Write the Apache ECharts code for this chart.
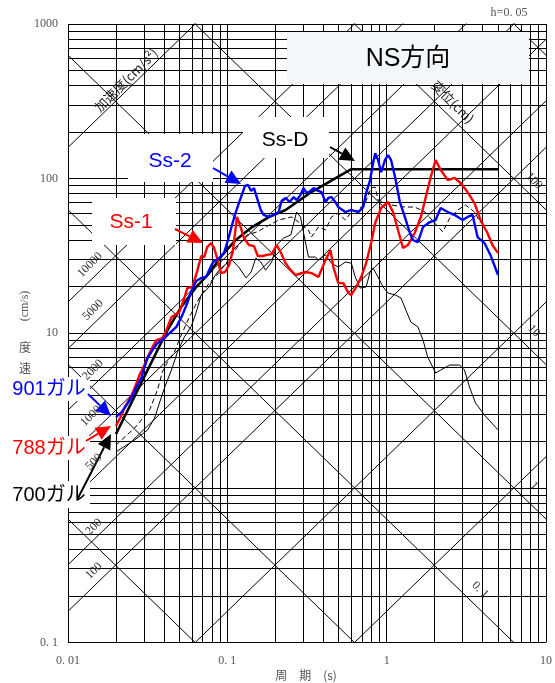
<!DOCTYPE html>
<html>
<head>
<meta charset="utf-8">
<script src="https://cdn.jsdelivr.net/npm/echarts@6/dist/echarts.min.js"></script>
<style>
  html, body { margin: 0; padding: 0; background: #fff; }
  #chart { width: 555px; height: 683px; }
</style>
</head>
<body>
<div id="chart"></div>
<script>
// Pseudo-velocity response spectra, NS direction, damping h = 0.05
// Each entry: [period (s), velocity (cm/s)]
const ssD = [[0.02, 2.23], [0.0415, 10.2], [0.0514, 14.8], [0.0638, 19.9], [0.077, 24.5],
  [0.093, 32.1], [0.113, 40.1], [0.143, 48.6], [0.182, 56.4], [0.232, 62.7], [0.337, 81.9],
  [0.60, 115], [5.0, 115]];

const ss1 = [[0.02, 2.51], [0.0217, 2.96], [0.0227, 3.33], [0.0237, 3.59], [0.0251, 3.98],
  [0.0269, 4.76], [0.0281, 5.37], [0.0302, 6.23], [0.0316, 7.02], [0.0339, 8.14], [0.0359, 9.04],
  [0.0391, 9.31], [0.0415, 10.5], [0.0446, 12.7], [0.050, 13.7], [0.0537, 16.9], [0.0561, 19.6],
  [0.0603, 19.9], [0.0647, 25.2], [0.0686, 31.6], [0.0716, 31.1], [0.0747, 36.1], [0.0791, 38.3],
  [0.0826, 35.6], [0.0863, 30.6], [0.0913, 24.5], [0.0968, 24.9], [0.1025, 27.6], [0.1086, 34.5],
  [0.1149, 56.5], [0.1218, 47.9], [0.127, 41.3], [0.1366, 37.2], [0.147, 36.6], [0.1554, 31.6],
  [0.167, 31.6], [0.177, 32.1], [0.190, 32.5], [0.204, 37.2], [0.216, 33.5], [0.232, 28.4],
  [0.250, 25.6], [0.268, 23.8], [0.310, 24.9], [0.337, 24.5], [0.373, 23.1], [0.413, 29.7],
  [0.444, 34.5], [0.463, 26.8], [0.497, 21.1], [0.535, 21.1], [0.574, 18.2], [0.600, 17.7],
  [0.644, 19.9], [0.692, 23.1], [0.743, 28.4], [0.799, 38.3], [0.847, 51.6], [0.923, 64.6],
  [1.02, 70.6], [1.096, 60.8], [1.178, 46.5], [1.266, 35.6], [1.36, 37.2], [1.50, 44.5],
  [1.64, 56.5], [1.76, 76.0], [1.89, 102], [2.03, 132], [2.18, 114], [2.42, 97.9], [2.67, 101],
  [2.91, 93.7], [3.22, 81.9], [3.56, 69.5], [3.88, 54.0], [4.29, 44.5], [4.61, 37.2], [5.0, 33.0]];

const ss2 = [[0.02, 2.87], [0.0217, 3.09], [0.0233, 3.43], [0.0251, 3.87], [0.0269, 4.49],
  [0.0290, 5.21], [0.0302, 6.04], [0.0316, 6.91], [0.0339, 7.79], [0.0364, 8.64], [0.0391, 9.04],
  [0.0433, 10.0], [0.0479, 11.0], [0.0522, 13.1], [0.0561, 15.7], [0.0594, 18.7], [0.0638, 21.8],
  [0.0686, 22.8], [0.0736, 23.1], [0.0780, 26.4], [0.0815, 28.9], [0.0887, 30.6], [0.0953, 33.0],
  [0.101, 40.1], [0.107, 50.1], [0.113, 60.8], [0.120, 72.7], [0.129, 89.6], [0.135, 91.0],
  [0.141, 83.2], [0.147, 86.9], [0.153, 76.0], [0.162, 62.7], [0.169, 58.2], [0.182, 56.5],
  [0.199, 59.0], [0.210, 60.8], [0.219, 71.6], [0.232, 75.0], [0.246, 70.6], [0.261, 76.0],
  [0.272, 72.7], [0.288, 78.3], [0.301, 86.9], [0.314, 80.7], [0.333, 83.2], [0.348, 86.9],
  [0.363, 84.4], [0.390, 81.9], [0.413, 70.6], [0.431, 75.0], [0.450, 76.0], [0.476, 70.6],
  [0.497, 65.5], [0.550, 60.8], [0.600, 62.7], [0.663, 60.8], [0.713, 65.5], [0.743, 80.7],
  [0.787, 97.9], [0.822, 126], [0.847, 146], [0.883, 132], [0.923, 110], [0.977, 132],
  [1.02, 142], [1.065, 132], [1.13, 102], [1.21, 70.6], [1.30, 56.5], [1.40, 44.5], [1.46, 40.1],
  [1.57, 38.9], [1.69, 48.6], [1.87, 52.4], [2.03, 54.0], [2.18, 64.6], [2.42, 60.8], [2.67, 58.2],
  [3.00, 54.0], [3.22, 56.5], [3.46, 58.2], [3.72, 41.9], [4.11, 38.3], [4.48, 32.1], [5.0, 23.8]];

// thin solid reference spectrum
const refSolid = [[0.02, 1.71], [0.0262, 2.04], [0.0316, 2.37], [0.0349, 2.82], [0.0375, 3.54],
  [0.0409, 4.62], [0.0446, 5.78], [0.0486, 7.55], [0.0537, 9.44], [0.0594, 11.1], [0.0638, 13.7],
  [0.0686, 17.7], [0.0769, 19.9], [0.0826, 23.1], [0.0887, 25.6], [0.0995, 28.4], [0.107, 29.7],
  [0.118, 26.8], [0.131, 22.8], [0.141, 24.9], [0.151, 30.6], [0.162, 28.9], [0.174, 25.6],
  [0.190, 28.9], [0.204, 37.2], [0.226, 41.3], [0.250, 43.2], [0.272, 60.8], [0.288, 56.5],
  [0.301, 44.5], [0.323, 31.1], [0.358, 31.1], [0.373, 29.7], [0.413, 32.1], [0.450, 28.4],
  [0.497, 26.8], [0.550, 28.9], [0.600, 28.4], [0.635, 23.1], [0.682, 19.6], [0.743, 19.9],
  [0.787, 24.9], [0.822, 26.4], [0.883, 23.1], [0.950, 19.9], [1.02, 18.2], [1.13, 17.7],
  [1.23, 16.9], [1.32, 14.1], [1.42, 11.8], [1.57, 11.0], [1.69, 9.04], [1.81, 7.02],
  [2.03, 5.53], [2.18, 5.78], [2.49, 6.23], [2.87, 6.23], [3.08, 5.78], [3.31, 4.49],
  [3.61, 3.54], [4.11, 2.96], [5.0, 2.37]];

// thin dashed reference spectrum
const refDashed = [[0.02, 1.89], [0.0262, 2.44], [0.0325, 3.18], [0.0364, 4.29], [0.0391, 5.61],
  [0.0421, 6.51], [0.0465, 7.55], [0.0514, 9.73], [0.0577, 12.7], [0.0666, 16.9], [0.0769, 21.1],
  [0.0863, 23.8], [0.0995, 28.9], [0.118, 37.2], [0.133, 43.2], [0.153, 45.2], [0.174, 48.6],
  [0.210, 54.0], [0.253, 56.5], [0.280, 52.4], [0.323, 46.5], [0.337, 41.9], [0.373, 48.6],
  [0.413, 46.5], [0.450, 56.5], [0.497, 59.9], [0.550, 54.0], [0.600, 60.8], [0.663, 62.7],
  [0.733, 69.5], [0.799, 86.9], [0.847, 88.3], [0.883, 72.7], [1.065, 67.5], [1.30, 65.5],
  [1.50, 65.5], [1.74, 60.8], [2.00, 51.6], [2.25, 45.2], [2.49, 55.6], [2.79, 62.7],
  [3.13, 67.5], [3.56, 60.8], [3.88, 51.6]];

// grid values
const periodGrid = [0.01, 0.02, 0.03, 0.04, 0.05, 0.06, 0.07, 0.08, 0.09,
  0.1, 0.2, 0.3, 0.4, 0.5, 0.6, 0.7, 0.8, 0.9, 1, 2, 3, 4, 5, 6, 7, 8, 9, 10];
const velocityGrid = [0.1, 0.2, 0.3, 0.4, 0.5, 0.6, 0.7, 0.8, 0.9, 1, 2, 3, 4, 5, 6, 7, 8, 9,
  10, 20, 30, 40, 50, 60, 70, 80, 90, 100, 200, 300, 400, 500, 600, 700, 800, 900, 1000];
const accelGrid = [1, 10, 100, 200, 500, 1000, 2000, 5000, 10000, 100000];   // cm/s^2
const dispGrid = [0.001, 0.01, 0.1, 1, 10, 100, 1000];                        // cm

// tick labels
const xTickLabels = { '-2': '0. 01', '-1': '0. 1', '0': '1', '1': '10' };
const yTickLabels = { '-1': '0. 1', '0': '1', '1': '10', '2': '100', '3': '1000' };
const accelLabels = ['10000', '5000', '2000', '1000', '500', '200', '100'];
const dispLabels = ['100', '10', '1', '0. 1'];

const TWO_PI = 2 * Math.PI;
const T_MIN = 0.01, T_MAX = 10, V_MIN = 0.1, V_MAX = 1000;

const gridSegments = [];
periodGrid.forEach(t => gridSegments.push({ coords: [[t, V_MIN], [t, V_MAX]] }));
velocityGrid.forEach(v => gridSegments.push({ coords: [[T_MIN, v], [T_MAX, v]] }));

const diagSegments = [];
accelGrid.forEach(a => diagSegments.push({ coords: [[T_MIN, a * T_MIN / TWO_PI], [T_MAX, a * T_MAX / TWO_PI]] }));
dispGrid.forEach(d => diagSegments.push({ coords: [[T_MIN, TWO_PI * d / T_MIN], [T_MAX, TWO_PI * d / T_MAX]] }));

const serifFont = '"Liberation Serif", "DejaVu Serif", serif';
const sansFont = '"Liberation Sans", Arial, "Noto Sans CJK JP", sans-serif';
const cjkFont = '"Noto Sans CJK JP", sans-serif';

function arrow(x1, y1, x2, y2, color) {
  const dx = x2 - x1, dy = y2 - y1, len = Math.hypot(dx, dy);
  const ux = dx / len, uy = dy / len;
  const L = 15, W = 7;
  const bx = x2 - ux * L, by = y2 - uy * L;
  return [
    { type: 'line', shape: { x1: x1, y1: y1, x2: bx, y2: by },
      style: { stroke: color, lineWidth: 2 }, z: 40 },
    { type: 'polygon', shape: { points: [[x2, y2], [bx - uy * W, by + ux * W], [bx + uy * W, by - ux * W]] },
      style: { fill: color }, z: 40 }
  ];
}

function box(x, y, w, h, fill) {
  return { type: 'rect', shape: { x: x, y: y, width: w, height: h }, style: { fill: fill || '#fff' }, z: 30 };
}

function label(text, x, y, opts) {
  opts = opts || {};
  return {
    type: 'text', x: x, y: y, rotation: opts.rotation || 0, z: 41,
    style: {
      text: text, fill: opts.color || '#000',
      font: (opts.size || 12) + 'px ' + (opts.family || serifFont),
      align: 'center', verticalAlign: 'middle'
    }
  };
}

const R45 = Math.PI / 4;
const accelLabelPos = [[90, 265], [93, 310], [93, 370], [91, 416], [94, 462], [94, 527], [94, 571]];
const dispLabelPos = [[534, 181], [534, 331], [534, 486], [480, 590]];

const graphics = [];
// annotation boxes
graphics.push(box(287, 32, 242, 52, '#f4f7f9'));
graphics.push(box(243, 117, 86, 41));
graphics.push(box(128, 134, 85, 48));
graphics.push(box(92, 198, 84, 47));
graphics.push(box(8, 377, 82, 24));
graphics.push(box(8, 436, 82, 24));
graphics.push(box(8, 481, 82, 27));

graphics.push(label('NS方向', 408, 59, { size: 25, family: sansFont }));
graphics.push(label('Ss-D', 285, 140, { size: 21, family: sansFont }));
graphics.push(label('Ss-2', 170, 161, { size: 21, family: sansFont, color: '#0000ff' }));
graphics.push(label('Ss-1', 131, 222, { size: 21, family: sansFont, color: '#ff0000' }));
graphics.push(label('901ガル', 49, 389, { size: 20, family: sansFont, color: '#0000ff' }));
graphics.push(label('788ガル', 49, 448, { size: 20, family: sansFont, color: '#ff0000' }));
graphics.push(label('700ガル', 49, 495, { size: 20, family: sansFont, color: '#000' }));

graphics.push(...arrow(330, 147, 355, 161, '#000'));
graphics.push(...arrow(213, 168, 241, 184, '#0000ff'));
graphics.push(...arrow(175, 229, 203, 243, '#ff0000'));
graphics.push(...arrow(88, 394, 111, 416, '#0000ff'));
graphics.push(...arrow(86, 441, 111, 426, '#ff0000'));
graphics.push(...arrow(78, 498, 111, 434, '#000'));

// diagonal scale labels
graphics.push(label('加速度(cm/s²)', 126, 80, { rotation: R45, size: 13, family: cjkFont, color: '#222' }));
accelLabels.forEach((t, i) => graphics.push(label(t, accelLabelPos[i][0], accelLabelPos[i][1], { rotation: R45, size: 12, color: '#333' })));
graphics.push(label('変位(cm)', 453, 102, { rotation: -R45, size: 13, family: cjkFont, color: '#222' }));
dispLabels.forEach((t, i) => graphics.push(label(t, dispLabelPos[i][0], dispLabelPos[i][1], { rotation: -R45, size: 12, color: '#333' })));

// axis titles and damping note
graphics.push(label('h=0. 05', 509, 13, { size: 12, color: '#555' }));
graphics.push(label('周　期　(s)', 306, 675, { size: 12, family: cjkFont, color: '#555' }));
graphics.push(label('速', 25, 368, { size: 12, family: cjkFont, color: '#555' }));
graphics.push(label('度', 25, 347, { size: 12, family: cjkFont, color: '#555' }));
graphics.push(label('(cm/s)', 25, 306, { size: 12, rotation: Math.PI / 2, color: '#555' }));

function spectrum(name, data, color, width, z, dash) {
  return {
    name: name, type: 'line', data: data, symbol: 'none', z: z,
    lineStyle: { color: color, width: width, type: dash || 'solid' },
    silent: true
  };
}

const chart = echarts.init(document.getElementById('chart'), null, { renderer: 'canvas' });
chart.setOption({
  animation: false,
  backgroundColor: '#fff',
  grid: { left: 68, top: 24, width: 481, height: 618.5 },
  xAxis: {
    type: 'log', logBase: 10, min: T_MIN, max: T_MAX,
    axisLine: { show: false }, axisTick: { show: false }, splitLine: { show: false },
    axisLabel: {
      margin: 12, color: '#555', fontFamily: serifFont, fontSize: 12,
      formatter: v => xTickLabels[String(Math.round(Math.log10(v)))] || ''
    }
  },
  yAxis: {
    type: 'log', logBase: 10, min: V_MIN, max: V_MAX,
    axisLine: { show: false }, axisTick: { show: false }, splitLine: { show: false },
    axisLabel: {
      margin: 10, color: '#555', fontFamily: serifFont, fontSize: 12,
      formatter: v => yTickLabels[String(Math.round(Math.log10(v)))] || ''
    }
  },
  series: [
    { type: 'lines', coordinateSystem: 'cartesian2d', data: gridSegments, z: 1, silent: true,
      lineStyle: { color: '#000', width: 1, opacity: 1, curveness: 0 } },
    { type: 'lines', coordinateSystem: 'cartesian2d', data: diagSegments, z: 1, silent: true, clip: true,
      lineStyle: { color: '#000', width: 1, opacity: 1, curveness: 0 } },
    spectrum('参考1', refSolid, '#000', 1, 3),
    spectrum('参考2', refDashed, '#000', 1, 3, [5, 3]),
    spectrum('Ss-D', ssD, '#000', 2.6, 4),
    spectrum('Ss-1', ss1, '#ff0000', 2.4, 5),
    spectrum('Ss-2', ss2, '#0000ff', 2.4, 6)
  ],
  graphic: { elements: graphics }
});
</script>
</body>
</html>
